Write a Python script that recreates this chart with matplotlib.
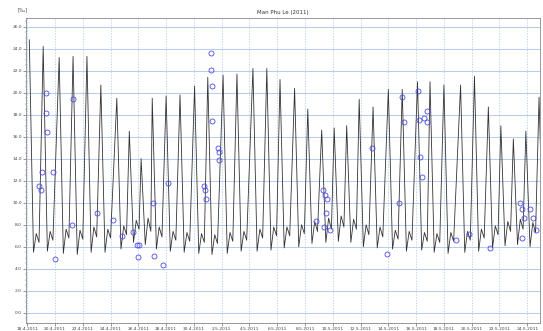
import datetime as dt
import matplotlib
matplotlib.use("Agg")
import matplotlib.pyplot as plt
import matplotlib.dates as mdates
from matplotlib.ticker import MultipleLocator, FuncFormatter

# daily cycle: time of peak (days after 18.4.2011), peak value,
# trough after peak, small bump, trough before next rise
peak_day = [0.15, 1.15, 2.3, 3.3, 4.3, 5.3, 6.45, 7.35, 8.2, 9.0, 10.0, 11.0, 12.05,
            13.0, 14.1, 15.1, 16.25, 17.25, 18.2, 19.25, 20.2, 21.2, 22.1, 23.0, 23.9,
            24.9, 26.0, 27.0, 28.1, 29.0, 30.0, 31.2, 32.2, 33.2, 34.1, 35.0, 35.9, 36.85]
peak_val = [24.8, 24.2, 23.2, 23.3, 23.3, 20.7, 19.5, 16.5, 14.0, 19.5, 19.7, 19.8, 20.6,
            21.4, 21.6, 21.7, 22.2, 22.2, 21.2, 20.4, 18.5, 16.6, 16.8, 17.0, 19.4,
            18.7, 20.3, 20.3, 21.0, 21.0, 20.7, 20.7, 21.5, 18.7, 17.0, 15.8, 16.5, 19.6]
low_a = [5.5, 5.6, 5.4, 5.3, 5.5, 5.5, 5.8, 6.4, 6.2, 5.8, 5.6, 5.5, 5.4,
         5.3, 5.4, 5.6, 5.6, 5.7, 5.9, 6.0, 6.3, 6.4, 6.5, 6.4, 6.0,
         5.9, 5.8, 5.6, 5.7, 5.5, 5.4, 5.5, 5.6, 5.9, 6.1, 6.2, 6.0, 5.8]
bump = [7.2, 7.4, 7.6, 7.5, 7.8, 7.6, 7.9, 8.4, 8.6, 7.8, 7.4, 7.3, 7.2,
        7.1, 7.3, 7.4, 7.6, 7.8, 7.8, 8.0, 8.3, 8.6, 8.8, 8.5, 8.0,
        7.8, 7.5, 7.4, 7.3, 7.2, 7.3, 7.4, 7.6, 7.9, 8.3, 8.5, 8.2, 7.6]
low_b = [6.4, 6.6, 6.8, 6.7, 6.9, 6.8, 7.1, 7.6, 7.4, 6.9, 6.6, 6.5, 6.4,
         6.3, 6.5, 6.6, 6.8, 7.0, 7.0, 7.2, 7.4, 7.6, 7.8, 7.6, 7.1,
         6.9, 6.7, 6.6, 6.5, 6.4, 6.5, 6.6, 6.8, 7.1, 7.4, 7.6, 7.3, 6.8]

# measured samples (blue circles): days after 18.4.2011, value
obs_day = [1.37, 1.37, 1.44, 1.08, 1.87, 0.86, 1.0, 5.04, 3.31, 2.01, 3.24, 6.19, 6.83,
           7.63, 7.91, 8.06, 7.99, 9.06, 9.14, 9.78, 10.14, 12.73, 12.8, 12.88, 13.24,
           13.24, 13.31, 13.31, 13.74, 13.81, 13.81, 21.3, 21.45, 21.6, 21.5, 21.4, 21.8,
           20.8, 24.8, 25.9, 26.8, 27.0, 27.1, 28.1, 28.2, 28.3, 28.4, 28.6, 28.75, 28.8,
           30.9, 31.8, 33.3, 35.5, 35.6, 35.75, 35.6, 36.2, 36.4, 36.6]
obs_val = [20.0, 18.2, 16.4, 12.8, 12.8, 11.5, 11.2, 9.1, 19.4, 4.9, 8.0, 8.4, 7.0,
           7.3, 6.2, 6.2, 5.1, 10.0, 5.2, 4.3, 11.8, 11.5, 11.2, 10.3, 23.6,
           22.1, 20.6, 17.4, 15.0, 14.6, 13.9, 11.2, 10.7, 10.3, 9.1, 7.8, 7.5,
           8.3, 15.0, 5.3, 10.0, 19.6, 17.3, 20.2, 17.5, 14.2, 12.3, 17.7, 18.3, 17.3,
           6.6, 7.2, 5.9, 10.0, 9.4, 8.6, 6.8, 9.4, 8.6, 7.5]

tick_labels = ["18.4.2011", "20.4.2011", "22.4.2011", "24.4.2011", "26.4.2011",
               "28.4.2011", "30.4.2011", "2.5.2011", "4.5.2011", "6.5.2011",
               "8.5.2011", "10.5.2011", "12.5.2011", "14.5.2011", "16.5.2011",
               "18.5.2011", "20.5.2011", "22.5.2011", "24.5.2011"]

start = dt.datetime(2011, 4, 18)
offsets = [0.0, 0.3, 0.5, 0.7]
line_t, line_v = [], []
for p, a, b, c, d in zip(peak_day, peak_val, low_a, bump, low_b):
    for o, v in zip(offsets, [a, b, c, d]):
        line_t.append(start + dt.timedelta(days=p + o))
        line_v.append(v)
obs_t = [start + dt.timedelta(days=x) for x in obs_day]
tick_t = [dt.datetime.strptime(s, "%d.%m.%Y") for s in tick_labels]

fig = plt.figure(figsize=(5.43, 3.31), dpi=100)
ax = fig.add_axes([0.048, 0.025, 0.946, 0.921])

ax.plot(line_t, line_v, color="#333333", lw=0.6)
ax.plot(obs_t, obs_val, ls="none", marker="o", ms=3.6, mfc="none", mec="#4a4ae6", mew=0.6)

ax.set_xlim(start - dt.timedelta(hours=2), start + dt.timedelta(days=36.9))
ax.set_ylim(-0.9, 26.8)
ax.set_xticks(tick_t)
ax.set_xticklabels(tick_labels)
ax.xaxis.set_minor_locator(mdates.HourLocator(byhour=[0, 6, 12, 18]))
ax.yaxis.set_major_locator(MultipleLocator(2))
ax.yaxis.set_minor_locator(MultipleLocator(0.5))
ax.yaxis.set_major_formatter(FuncFormatter(lambda y, pos: "%.1f" % y))
ax.tick_params(labelsize=3.2, length=2, width=0.4, pad=1, colors="#444444")
ax.tick_params(which="minor", length=1, width=0.3, colors="#666666")

ax.grid(axis="y", color="#a8c4ee", lw=0.6)
ax.grid(axis="x", color="#a8c4ee", lw=0.5, ls=(0, (2, 2)))
for s in ax.spines.values():
    s.set_color("#888888")
    s.set_linewidth(0.6)

ax.set_title("Man Phu Le (2011)", fontsize=4, pad=3, color="#333333")
fig.text(0.033, 0.965, "[‰]", fontsize=3.4, color="#444444")

fig.savefig("out.png", dpi=100)
